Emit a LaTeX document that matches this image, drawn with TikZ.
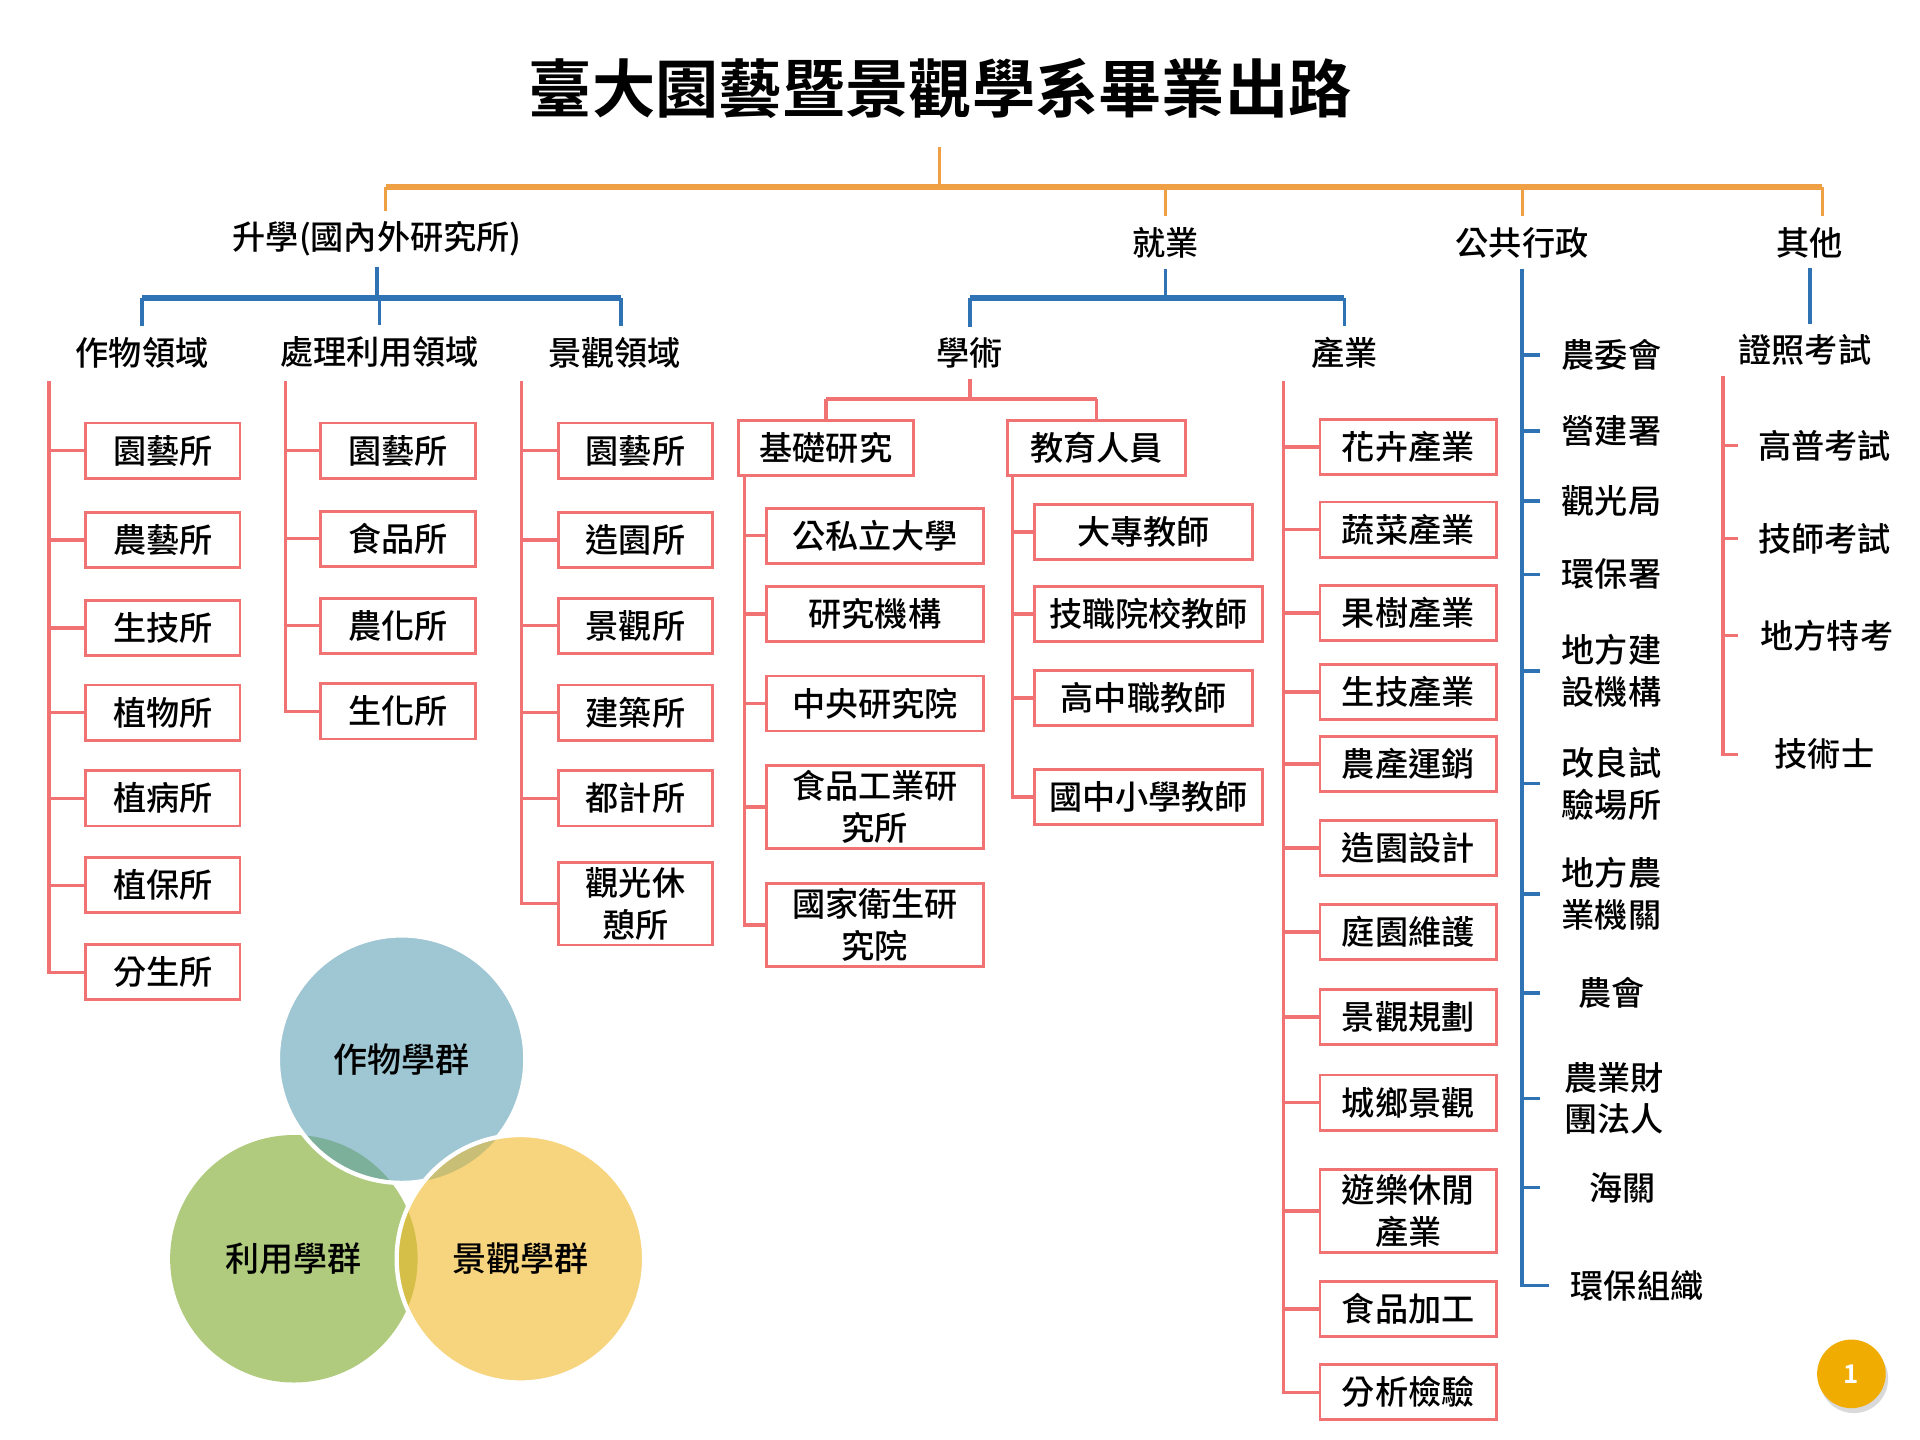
\documentclass[tikz,border=0pt]{standalone}
\usepackage{fontspec}
\setmainfont{Noto Sans CJK TC}[UprightFont={* Medium}, BoldFont={* Bold}]
\usepackage{tikz}
\usetikzlibrary{shadows}
\definecolor{treeorange}{HTML}{F0A044}
\definecolor{treeblue}{HTML}{2F73B4}
\definecolor{boxred}{HTML}{F07272}
\definecolor{cropblue}{HTML}{9FC6D3}
\definecolor{usegreen}{HTML}{B0CB7E}
\definecolor{landyellow}{HTML}{F7D47E}
\definecolor{lensbg}{HTML}{7DB09A}
\definecolor{lensyg}{HTML}{D5BF48}
\definecolor{lensby}{HTML}{C8BE75}
\definecolor{pagegold}{HTML}{F0AC00}
\tikzset{
    every node/.style={font=\fontsize{7.7}{9.7}\selectfont},
    lbl/.style={inner sep=0.08cm},
    subitem/.style={inner sep=0.04cm, align=center},
    outbox/.style={draw=boxred, line width=0.65pt, fill=white, inner xsep=0pt, inner ysep=0.04cm,
        minimum height=0.45cm, minimum width=#1, align=center},
    outbox/.default=1.26cm,
    orangeline/.style={draw=treeorange, line width=0.7pt},
    orangebar/.style={draw=treeorange, line width=1.4pt},
    blueline/.style={draw=treeblue, line width=0.8pt},
    bluebar/.style={draw=treeblue, line width=1.4pt},
    redline/.style={draw=boxred, line width=0.8pt}
}

\begin{document}
\begin{tikzpicture}[x=0.01cm, y=-0.01cm]
\useasboundingbox (0,0) rectangle (1568,1176);

\node[font=\fontsize{14.7}{17}\selectfont\bfseries] (title) at (768,72) {臺大園藝暨景觀學系畢業出路};

% first level
\coordinate (rootTop) at (767,120);
\coordinate (rootJoin) at (767,153);
\node[lbl] (study) at (308,195) {升學(國內外研究所)};
\node[lbl] (job) at (952,198) {就業};
\node[lbl] (public) at (1243,198) {公共行政};
\node[lbl] (other) at (1478,198) {其他};
\coordinate (studyDrop) at (315,153);
\coordinate (otherDrop) at (1488,153);
\draw[orangeline] (rootTop) -- (rootJoin);
\draw[orangebar] (studyDrop) -- (otherDrop);
\draw[orangeline] (studyDrop) -- (studyDrop |- study.north);
\draw[orangeline] (otherDrop) -- (otherDrop |- other.north);
\foreach \n in {job, public}
    \draw[orangeline] (\n.north |- rootJoin) -- (\n.north);

% study
\coordinate (studyJoin) at (307,243);
\coordinate (landDrop) at (507,243);
\node[lbl] (crop) at (116,288) {作物領域};
\node[lbl] (proc) at (310,287) {處理利用領域};
\node[lbl] (land) at (502,288) {景觀領域};
\draw[blueline] (study.south) -- (study.south |- studyJoin);
\draw[bluebar] (crop.north |- studyJoin) -- (landDrop);
\foreach \n in {crop, proc}
    \draw[blueline] (\n.north |- studyJoin) -- (\n.north);
\draw[blueline] (landDrop) -- (landDrop |- land.north);

% job
\coordinate (jobJoin) at (952,243);
\node[lbl] (acad) at (792,288) {學術};
\node[lbl] (ind) at (1098,288) {產業};
\draw[blueline] (job.south) -- (job.south |- jobJoin);
\draw[bluebar] (acad.north |- jobJoin) -- (ind.north |- jobJoin);
\foreach \n in {acad, ind}
    \draw[blueline] (\n.north |- jobJoin) -- (\n.north);

% other
\node[lbl] (license) at (1474,286) {證照考試};
\draw[blueline] (other.south) -- (other.south |- license.north);

% crop column
\coordinate (cropSpine) at (40,311);
\foreach \txt/\y [count=\i] in {園藝所/368, 農藝所/441, 生技所/513, 植物所/582, 植病所/652, 植保所/723, 分生所/794}
    \node[outbox] (crop\i) at (133,\y) {\txt};
\foreach \i in {1,...,6}
    \draw[redline] (cropSpine |- crop\i.west) -- (crop\i.west);
\draw[redline] (cropSpine) |- (crop7.west);

% proc column
\coordinate (procSpine) at (233,311);
\foreach \txt/\y [count=\i] in {園藝所/368, 食品所/440, 農化所/511, 生化所/581}
    \node[outbox=1.27cm] (proc\i) at (325,\y) {\txt};
\foreach \i in {1,...,3}
    \draw[redline] (procSpine |- proc\i.west) -- (proc\i.west);
\draw[redline] (procSpine) |- (proc4.west);

% land column
\coordinate (landSpine) at (426,311);
\foreach \txt/\y [count=\i] in {園藝所/368, 造園所/441, 景觀所/511, 建築所/582, 都計所/652, 觀光休\\憩所/738}
    \node[outbox] (land\i) at (519,\y) {\txt};
\foreach \i in {1,...,5}
    \draw[redline] (landSpine |- land\i.west) -- (land\i.west);
\draw[redline] (landSpine) |- (land6.west);

% acad
\coordinate (acadJoin) at (793,326);
\node[outbox=1.43cm] (basic) at (674.5,366) {基礎研究};
\node[outbox=1.45cm] (teach) at (895.5,366) {教育人員};
\draw[redline] (acad.south) -- (acad.south |- acadJoin);
\draw[redline] (basic.north |- acadJoin) -- (teach.north |- acadJoin);
\foreach \n in {basic, teach}
    \draw[redline] (\n.north |- acadJoin) -- (\n.north);

\coordinate (basicSpine) at (608,389);
\foreach \txt/\y [count=\i] in {公私立大學/437.5, 研究機構/501.5, 中央研究院/574.5, 食品工業研\\究所/659, 國家衛生研\\究院/755.5}
    \node[outbox=1.77cm] (basic\i) at (714.5,\y) {\txt};
\foreach \i in {1,...,4}
    \draw[redline] (basicSpine |- basic\i.west) -- (basic\i.west);
\draw[redline] (basicSpine) |- (basic5.west);

\coordinate (teachSpine) at (827,388);
\node[outbox=1.78cm] (teach1) at (934,434.5) {大專教師};
\node[outbox=1.86cm] (teach2) at (938,501.5) {技職院校教師};
\node[outbox=1.78cm] (teach3) at (934,570) {高中職教師};
\node[outbox=1.86cm] (teach4) at (938,651) {國中小學教師};
\foreach \i in {1,...,3}
    \draw[redline] (teachSpine |- teach\i.west) -- (teach\i.west);
\draw[redline] (teachSpine) |- (teach4.west);

% industry
\coordinate (indSpine) at (1048,311);
\foreach \txt/\y [count=\i] in {花卉產業/365, 蔬菜產業/432.5, 果樹產業/500.5, 生技產業/565, 農產運銷/624, 造園設計/692.5,
        庭園維護/761, 景觀規劃/830.5, 城鄉景觀/900.5, 遊樂休閒\\產業/989, 食品加工/1069, 分析檢驗/1137}
    \node[outbox=1.44cm] (ind\i) at (1150,\y) {\txt};
\foreach \i in {1,...,11}
    \draw[redline] (indSpine |- ind\i.west) -- (ind\i.west);
\draw[redline] (indSpine) |- (ind12.west);

% public
\coordinate (pubTick) at (1258,0);
\coordinate (pubLast) at (1265,0);
\foreach \txt/\x/\y [count=\i] in {農委會/1316/290, 營建署/1316/352, 觀光局/1316/409, 環保署/1316/469, 地方建\\設機構/1316/548,
        改良試\\驗場所/1316/640, 地方農\\業機關/1316/730, 農會/1316/811, 農業財\\團法人/1318/897, 海關/1325/970, 環保組織/1337/1050}
    \node[subitem] (pub\i) at (\x,\y) {\txt};
\foreach \i in {1,...,10}
    \draw[blueline] (public.south |- pub\i.west) -- (pubTick |- pub\i.west);
\draw[blueline] (public.south) |- (pubLast |- pub11.west);

% license
\coordinate (licSpine) at (1407,307);
\coordinate (licTick) at (1419,0);
\foreach \txt/\x/\y [count=\i] in {高普考試/1490/364, 技師考試/1490/440, 地方特考/1492/519, 技術士/1490/616}
    \node[subitem] (lic\i) at (\x,\y) {\txt};
\foreach \i in {1,...,3}
    \draw[redline] (licSpine |- lic\i.west) -- (licTick |- lic\i.west);
\draw[redline] (licSpine) |- (licTick |- lic4.west);

% groups
\fill[usegreen] (240,1028) circle (1.01cm);
\fill[cropblue] (328,865) circle (1.01cm);
\begin{scope}
    \clip (240,1028) circle (1.01cm);
    \fill[lensbg] (328,865) circle (1.01cm);
\end{scope}
\draw[white, line width=1pt] (328,865) circle (1.01cm);
\fill[landyellow] (425,1028) circle (1.01cm);
\begin{scope}
    \clip (425,1028) circle (1.01cm);
    \fill[lensyg] (240,1028) circle (1.01cm);
    \fill[lensby] (328,865) circle (1.01cm);
\end{scope}
\draw[white, line width=1pt] (425,1028) circle (1.01cm);
\node[font=\fontsize{7.9}{9.7}\selectfont] (cropGroup) at (328,865) {作物學群};
\node[font=\fontsize{7.9}{9.7}\selectfont] (useGroup) at (240,1028) {利用學群};
\node[font=\fontsize{7.9}{9.7}\selectfont] (landGroup) at (425,1028) {景觀學群};

% page number
\node[circle, fill=pagegold, minimum size=0.56cm, text=white, font=\fontsize{6}{7}\selectfont\bfseries,
    drop shadow={shadow xshift=0.02cm, shadow yshift=-0.04cm, opacity=0.3}] (page) at (1512,1122) {1};
\end{tikzpicture}
\end{document}
